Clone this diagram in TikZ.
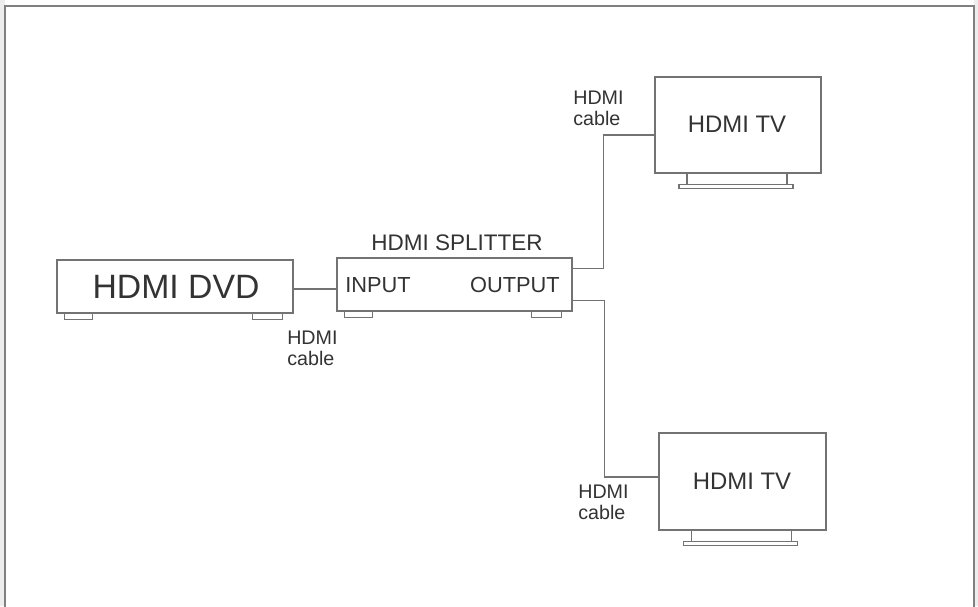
\documentclass[tikz,border=0pt]{standalone}
\usepackage{fontspec}
\setmainfont{Liberation Sans}
\usetikzlibrary{calc}
\colorlet{linegray}{black!55}
\colorlet{textgray}{black!80}
\tikzset{
  unit/.style={draw=linegray, line width=1.1pt, inner sep=0pt},
  lbl/.style={text=textgray, inner sep=0pt},
  cablelbl/.style={lbl, align=left, font=\fontsize{14}{14.5}\selectfont},
  cable/.style={draw=linegray, line width=0.9pt}
}

\begin{document}
\begin{tikzpicture}[x=0.025cm, y=-0.025cm]
                \useasboundingbox (0,0) rectangle (978,606);
                \fill[black!7] (0,0) rectangle (5,606);
                \fill[black!7] (974,0) rectangle (978,606);
                \fill[white] (5,6) rectangle (974,606);
                \draw[black!50, line width=0.9pt] (5,610) -- (5,6) -- (974,6) -- (974,610);
                % boxes
                \node[unit, minimum width=5.9cm, minimum height=1.325cm] (dvd) at (175,286.5) {};
                \node[unit, minimum width=5.875cm, minimum height=1.325cm] (splitter) at (454.5,284.5) {};
                \node[unit, minimum width=4.15cm, minimum height=2.4cm] (tvA) at (738,125) {};
                \node[unit, minimum width=4.175cm, minimum height=2.425cm] (tvB) at (742.5,481.5) {};
                % texts
                \node[lbl, anchor=base, font=\fontsize{24}{28}\selectfont] (dvdtext) at (176,298) {HDMI DVD};
                \node[lbl, anchor=base, font=\fontsize{16}{19}\selectfont] (splittertext) at (457,250) {HDMI SPLITTER};
                \node[lbl, anchor=base west, font=\fontsize{15.5}{18}\selectfont] (input) at (345,292) {INPUT};
                \node[lbl, anchor=base east, font=\fontsize{15.5}{18}\selectfont] (output) at (560,292) {OUTPUT};
                \node[lbl, anchor=base, font=\fontsize{17}{20}\selectfont] (tvAtext) at (737,132) {HDMI TV};
                \node[lbl, anchor=base, font=\fontsize{17}{20}\selectfont] (tvBtext) at (742,489) {HDMI TV};
                \node[cablelbl, anchor=north west] (cableDvd) at (287,331) {HDMI\\cable};
                \node[cablelbl, anchor=north west] (cableA) at (573,91) {HDMI\\cable};
                \node[cablelbl, anchor=north west] (cableB) at (578,485) {HDMI\\cable};
                % feet
                \foreach \n in {dvd,splitter} {
                    \draw[linegray, line width=0.8pt] ($(\n.south west)+(8,0)$) rectangle ($(\n.south west)+(36,6)$);
                    \draw[linegray, line width=0.8pt] ($(\n.south east)+(-41,0)$) rectangle ($(\n.south east)+(-11,6)$);
                }
                % tv stands
                \foreach \n in {tvA,tvB} {
                    \draw[linegray, line width=0.8pt] ($(\n.south)+(-51,0)$) -- ++(0,11);
                    \draw[linegray, line width=0.8pt] ($(\n.south)+(49,0)$) -- ++(0,11);
                    \draw[linegray, line width=0.8pt] ($(\n.south)+(-59,11)$) rectangle ($(\n.south)+(55,15)$);
                }
                % cables
                \coordinate (outA) at ($(splitter.north east)+(0,11)$);
                \coordinate (outB) at ($(splitter.south east)+(0,-11)$);
                \draw[cable] (dvd.east |- 0,289) -- (splitter.west |- 0,289);
                \draw[cable] (outA) -- ++(31,0) |- ($(tvA.west)+(0,10)$);
                \draw[cable] (outB) -- ++(32,0) |- ($(tvB.west)+(0,-4.5)$);
            \end{tikzpicture}
\end{document}
